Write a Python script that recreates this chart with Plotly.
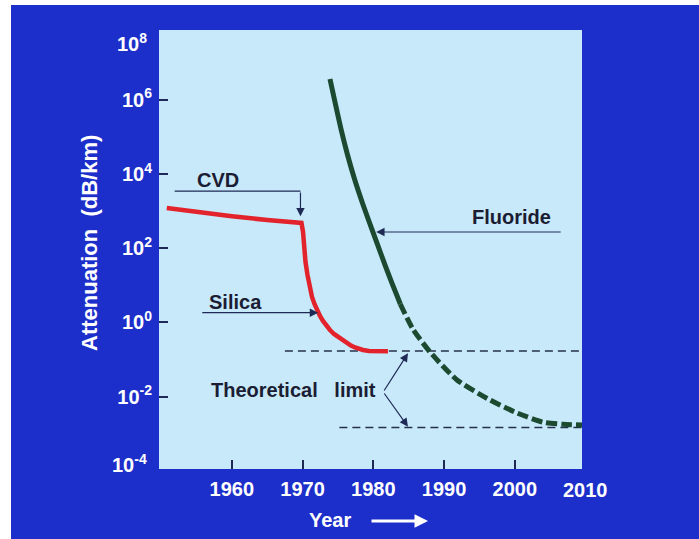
import math
import plotly.graph_objects as go

# ---- data -------------------------------------------------------------
silica_year = [1950.8, 1955.0, 1960.0, 1965.0, 1969.84, 1970.06, 1970.2, 1970.41,
               1970.69, 1970.98, 1971.33, 1971.68, 1972.04, 1972.46, 1972.88,
               1973.38, 1973.87, 1974.44, 1975.01, 1975.64, 1976.28, 1976.84,
               1977.41, 1977.97, 1978.54, 1979.39, 1980.24, 1982.07]
silica_att = [1210, 933, 724, 575, 479, 275, 123, 42.7,
              19.1, 9.55, 4.84, 3.14, 2.16, 1.49, 1.10,
              0.80, 0.625, 0.488, 0.405, 0.326, 0.279, 0.239,
              0.211, 0.192, 0.181, 0.170, 0.167, 0.167]

fluoride_year = [1973.87, 1974.64, 1975.43, 1976.32, 1977.34, 1978.51, 1979.78,
                 1981.08, 1982.40, 1983.81]
fluoride_att = [3.63e6, 7.69e5, 1.63e5, 3.46e4, 7.33e3, 1552, 330,
                69.8, 14.8, 3.14]

fluoride_proj_year = [1983.81, 1985.58, 1988.01, 1991.83, 1996.49, 2000.31, 2004.0,
                      2006.8, 2009.5]
fluoride_proj_att = [3.14, 0.665, 0.160, 0.0282, 0.00813, 0.00363, 0.00204,
                     0.00180, 0.00172]

limit_silica_year = [1967.5, 2009.5]
limit_silica_att = [0.17, 0.17]
limit_fluoride_year = [1975.2, 2009.5]
limit_fluoride_att = [0.00148, 0.00148]

x_ticks = [1960, 1970, 1980, 1990, 2000, 2010]
y_ticks = [1e-4, 1e-2, 1e0, 1e2, 1e4, 1e6, 1e8]
y_tick_text = ["10<sup>-4</sup>", "10<sup>-2</sup>", "10<sup>0</sup>", "10<sup>2</sup>",
               "10<sup>4</sup>", "10<sup>6</sup>", "10<sup>8</sup>"]

# ---- styling ----------------------------------------------------------
W, H = 699, 539
ML, MR, MT, MB = 159, 117, 30, 70
PW, PH = W - ML - MR, H - MT - MB
X_RANGE = [1949.7, 2009.5]
Y_RANGE = [-3.95, 7.88]

SLIDE_BLUE = "#1d2fca"
PANEL = "#c8e9fa"
INK = "#1b1d33"
NAVY = "#1e2a55"
FONT = "Liberation Sans, Arial, sans-serif"


def px_x(px):
    return (px - ML) / PW


def px_y(py):
    return (H - MB - py) / PH


fig = go.Figure()

fig.add_trace(go.Scatter(x=limit_silica_year, y=limit_silica_att, mode="lines",
                         line=dict(color="#25304c", width=1.6, dash="8px,5px"),
                         hoverinfo="skip", showlegend=False))
fig.add_trace(go.Scatter(x=limit_fluoride_year, y=limit_fluoride_att, mode="lines",
                         line=dict(color="#25304c", width=1.6, dash="8px,5px"),
                         hoverinfo="skip", showlegend=False))
fig.add_trace(go.Scatter(x=silica_year, y=silica_att, mode="lines", name="Silica",
                         line=dict(color="#e3232b", width=4.5),
                         showlegend=False))
fig.add_trace(go.Scatter(x=fluoride_year, y=fluoride_att, mode="lines", name="Fluoride",
                         line=dict(color="#1b4a30", width=5, shape="spline", smoothing=0.6),
                         showlegend=False))
fig.add_trace(go.Scatter(x=fluoride_proj_year, y=fluoride_proj_att, mode="lines",
                         name="Fluoride (projected)",
                         line=dict(color="#1b4a30", width=5, dash="11px,4px",
                                   shape="spline", smoothing=0.6),
                         showlegend=False))

L = math.log10
annotations = []


def label(text, x, y, size=20, anchor="center"):
    annotations.append(dict(text=text, x=x, y=L(y), xref="x", yref="y",
                            showarrow=False, xanchor=anchor, yanchor="middle",
                            font=dict(family=FONT, size=size, color=INK)))


def arrow(x_tail, y_tail, x_tip, y_tip, head=2):
    annotations.append(dict(text="", x=x_tip, y=L(y_tip), ax=x_tail, ay=L(y_tail),
                            xref="x", yref="y", axref="x", ayref="y",
                            showarrow=True, arrowhead=head, arrowsize=1.4,
                            arrowwidth=1.2, arrowcolor=NAVY))


# CVD marker: elbow connector onto the knee of the silica curve
label("<b>CVD</b>", 1958.0, 10 ** 3.84)
arrow(1951.7, 10 ** 3.54, 1969.7, 10 ** 3.54, head=0)
arrow(1969.7, 10 ** 3.54, 1969.7, 10 ** 2.86)

label("<b>Silica</b>", 1960.5, 10 ** 0.54)
arrow(1955.6, 10 ** 0.262, 1972.2, 10 ** 0.262)

label("<b>Fluoride</b>", 1999.6, 10 ** 2.84)
arrow(2006.7, 10 ** 2.437, 1980.4, 10 ** 2.437)

label("<b>Theoretical   limit</b>", 1956.8, 10 ** -1.82, anchor="left")
arrow(1981.4, 10 ** -1.875, 1984.9, 10 ** -0.83)
arrow(1981.4, 10 ** -1.875, 1984.9, 10 ** -2.81)

# Corner tick labels that sit on the panel edges
tick_font = dict(family=FONT, size=20, color="white")
annotations.append(dict(text="<b>" + y_tick_text[-1] + "</b>", x=px_x(149), y=px_y(43),
                        xref="paper", yref="paper", xanchor="right", yanchor="middle",
                        showarrow=False, font=tick_font))
annotations.append(dict(text="<b>" + y_tick_text[0] + "</b>", x=px_x(149), y=px_y(463),
                        xref="paper", yref="paper", xanchor="right", yanchor="middle",
                        showarrow=False, font=tick_font))
annotations.append(dict(text="<b>%d</b>" % x_ticks[-1], x=px_x(585), y=px_y(490),
                        xref="paper", yref="paper", xanchor="center", yanchor="middle",
                        showarrow=False, font=dict(family=FONT, size=20, color="white")))

# Axis titles
annotations.append(dict(text="<b>Attenuation  (dB/km)</b>", x=px_x(90), y=px_y(243),
                        xref="paper", yref="paper", textangle=-90, showarrow=False,
                        xanchor="center", yanchor="middle",
                        font=dict(family=FONT, size=22, color="white")))
annotations.append(dict(text="<b>Year</b>", x=px_x(330), y=px_y(520),
                        xref="paper", yref="paper", showarrow=False,
                        xanchor="center", yanchor="middle",
                        font=dict(family=FONT, size=20, color="white")))
annotations.append(dict(text="", x=px_x(428), y=px_y(521), ax=-58, ay=0,
                        xref="paper", yref="paper", showarrow=True, arrowhead=2,
                        arrowsize=0.9, arrowwidth=3, arrowcolor="white"))

# Light frame of the slide along its top and left edges
shapes = [
    dict(type="rect", xref="paper", yref="paper", x0=px_x(0), x1=px_x(11),
         y0=px_y(H), y1=px_y(0), fillcolor="white", line=dict(width=0), layer="above"),
    dict(type="rect", xref="paper", yref="paper", x0=px_x(0), x1=px_x(W),
         y0=px_y(5), y1=px_y(0), fillcolor="white", line=dict(width=0), layer="above"),
]

fig.update_layout(
    width=W, height=H, autosize=False,
    margin=dict(l=ML, r=MR, t=MT, b=MB, pad=0),
    paper_bgcolor=SLIDE_BLUE, plot_bgcolor=PANEL,
    showlegend=False,
    annotations=annotations, shapes=shapes,
    xaxis=dict(range=X_RANGE, tickmode="array", tickvals=x_ticks[:-1],
               ticktext=["<b>%d</b>" % v for v in x_ticks[:-1]],
               ticks="inside", ticklen=9, tickwidth=2, tickcolor=NAVY,
               tickfont=dict(family=FONT, size=20, color="white"),
               ticklabelstandoff=6,
               showgrid=False, zeroline=False, showline=False, fixedrange=True),
    yaxis=dict(type="log", range=Y_RANGE, tickmode="array", tickvals=y_ticks[1:-1],
               ticktext=["<b>%s</b>" % t for t in y_tick_text[1:-1]],
               ticks="inside", ticklen=9, tickwidth=2, tickcolor=NAVY,
               tickfont=tick_font, ticklabelstandoff=6,
               showgrid=False, zeroline=False, showline=False, fixedrange=True),
)

fig.write_html("out.html")
